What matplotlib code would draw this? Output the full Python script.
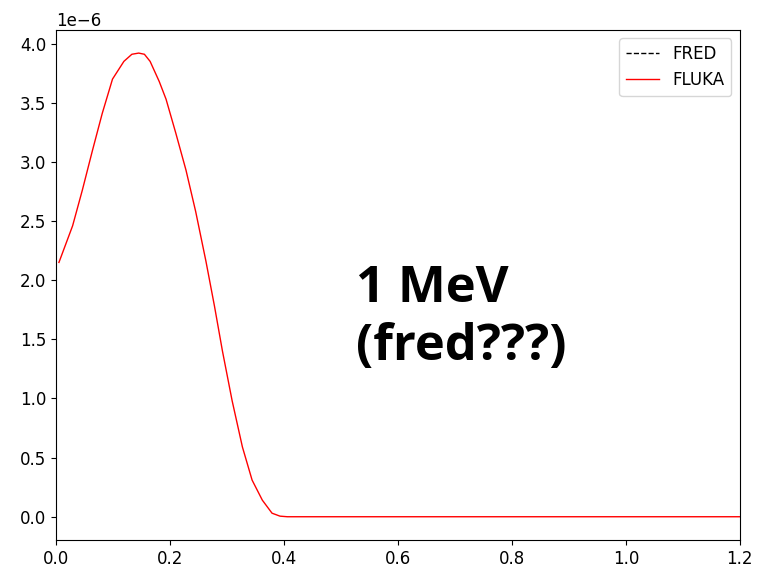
import matplotlib.pyplot as plt

# FLUKA dose profile, 1 MeV (depth in cm)
fluka_x = [0.005, 0.029, 0.046, 0.064, 0.081, 0.099, 0.119, 0.133, 0.145,
           0.155, 0.165, 0.181, 0.193, 0.21, 0.228, 0.245, 0.263, 0.278,
           0.292, 0.309, 0.327, 0.344, 0.362, 0.379, 0.393, 0.406,
           0.6, 0.8, 1.0, 1.2]
fluka_y = [2.15, 2.46, 2.76, 3.10, 3.41, 3.70, 3.85, 3.91, 3.92,
           3.91, 3.85, 3.68, 3.53, 3.245, 2.93, 2.58, 2.16, 1.78,
           1.40, 0.98, 0.59, 0.31, 0.14, 0.03, 0.005, 0.0,
           0.0, 0.0, 0.0, 0.0]
fluka_y = [v * 1e-6 for v in fluka_y]

# no FRED output for this energy
fred_x = []
fred_y = []

plt.rcParams['font.size'] = 12

fig = plt.figure(figsize=(7.58, 5.75), dpi=100)
ax = fig.add_axes([0.074, 0.061, 0.902, 0.887])

ax.plot(fred_x, fred_y, 'k--', linewidth=1, label='FRED')
ax.plot(fluka_x, fluka_y, 'r-', linewidth=1, label='FLUKA')
ax.set_xlim(0, 1.2)
ax.legend(loc='upper right')

ax.text(0.439, 0.541, '1 MeV\n(fred???)', transform=ax.transAxes,
        fontsize=36.5, fontweight='bold', family='Open Sans',
        va='top', ha='left', linespacing=1.22)

fig.savefig('out.png', dpi=100)
